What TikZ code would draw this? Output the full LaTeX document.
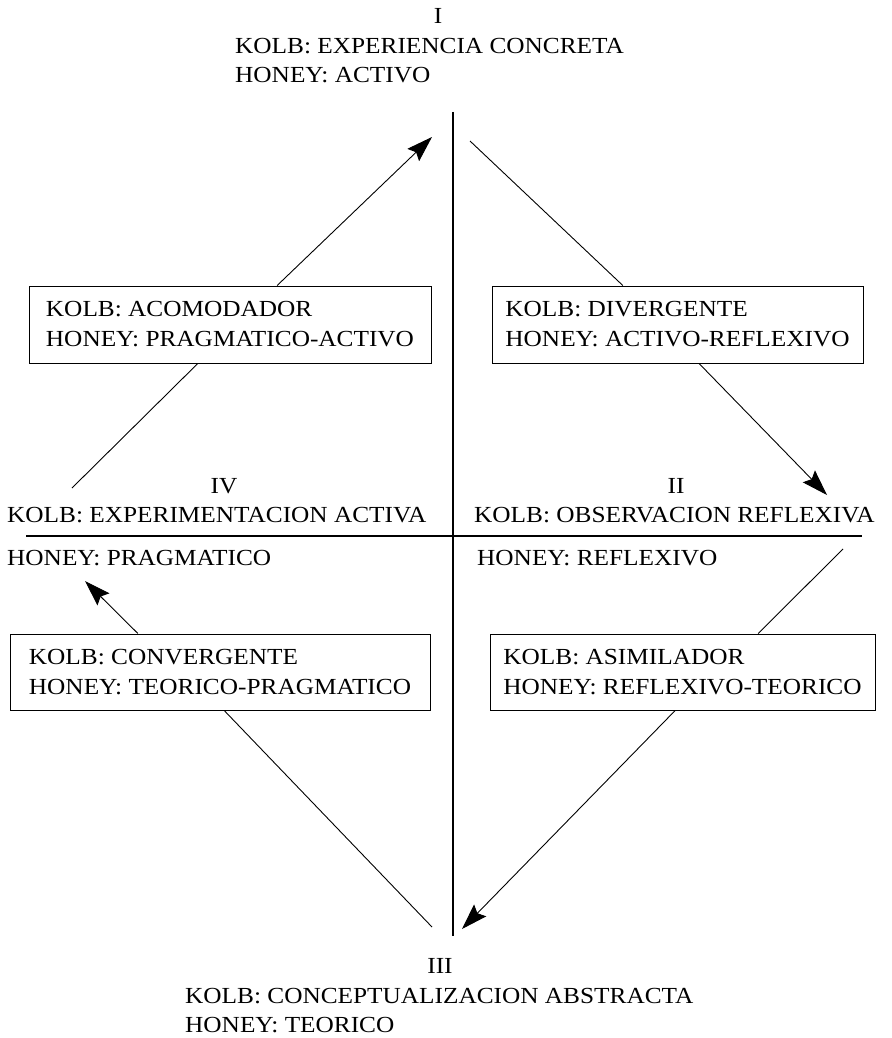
\documentclass[tikz,border=0pt]{standalone}
\usepackage{fontspec}
\setmainfont{Liberation Serif}[FakeStretch=1.1]
\usetikzlibrary{arrows.meta,calc}
\tikzset{
  txt/.style={inner sep=0pt, anchor=base west},
  num/.style={inner sep=0pt, anchor=base},
  box/.style={draw, line width=1pt, inner xsep=4pt, inner ysep=0pt, minimum height=77pt, align=left},
  axis/.style={line width=1.1pt},
  conn/.style={line width=0.9pt},
  arr/.style={line width=0.9pt, -{Stealth[length=26pt,width=17pt,inset=4pt]}}
}
\begin{document}
\begin{tikzpicture}[x=1pt,y=1pt,font=\fontsize{23}{30}\selectfont]
\useasboundingbox (0,0) rectangle (891,-1038);
% axes
\coordinate (vtop) at (453,-112);
\coordinate (vbot) at (453,-936);
\coordinate (hl) at (26,-536);
\coordinate (hr) at (862,-536);
\draw[axis] (vtop) -- (vbot);
\draw[axis] (hl) -- (hr);
% pole texts
\node[num] (nI) at (438,-24) {I};
\node[txt] (kI) at (235,-54) {KOLB: EXPERIENCIA CONCRETA};
\node[txt] (hI) at (235,-83) {HONEY: ACTIVO};
\node[num] (nIV) at (224,-493) {IV};
\node[txt] (kIV) at (7,-522) {KOLB: EXPERIMENTACION ACTIVA};
\node[txt] (hIV) at (7,-565) {HONEY: PRAGMATICO};
\node[num] (nII) at (676,-493) {II};
\node[txt] (kII) at (474,-522) {KOLB: OBSERVACION REFLEXIVA};
\node[txt] (hII) at (477,-565) {HONEY: REFLEXIVO};
\node[num] (nIII) at (440,-973) {III};
\node[txt] (kIII) at (185,-1003) {KOLB: CONCEPTUALIZACION ABSTRACTA};
\node[txt] (hIII) at (185,-1032) {HONEY: TEORICO};
% boxes
\node[box, minimum width=402pt] (A) at (230,-324.5) {KOLB: ACOMODADOR\\HONEY: PRAGMATICO-ACTIVO};
\node[box, minimum width=371pt] (D) at (677.5,-324.5) {KOLB: DIVERGENTE\\HONEY: ACTIVO-REFLEXIVO};
\node[box, minimum width=420pt, minimum height=76pt] (C) at (220,-672) {KOLB: CONVERGENTE\\HONEY: TEORICO-PRAGMATICO};
\node[box, minimum width=385pt, minimum height=76pt] (S) at (682.5,-672) {KOLB: ASIMILADOR\\HONEY: REFLEXIVO-TEORICO};
% free ends
\coordinate (tI) at (432,-137);
\coordinate (tIa) at (470,-141);
\coordinate (tII) at (827,-495);
\coordinate (tIIa) at (843,-549);
\coordinate (tIII) at (462,-929);
\coordinate (tIIIa) at (432,-927);
\coordinate (tIV) at (85,-581);
\coordinate (tIVa) at (72,-488);
% connectors
\draw[conn] (tIa) -- ($(D.north west)!0.353!(D.north east)$);
\draw[arr] ($(D.south west)!0.558!(D.south east)$) -- (tII);
\draw[conn] (tIIa) -- ($(S.north west)!0.696!(S.north east)$);
\draw[arr] ($(S.south west)!0.481!(S.south east)$) -- (tIII);
\draw[conn] (tIIIa) -- ($(C.south west)!0.510!(C.south east)$);
\draw[arr] ($(C.north west)!0.305!(C.north east)$) -- (tIV);
\draw[conn] (tIVa) -- ($(A.south west)!0.420!(A.south east)$);
\draw[arr] ($(A.north west)!0.617!(A.north east)$) -- (tI);
\end{tikzpicture}
\end{document}
